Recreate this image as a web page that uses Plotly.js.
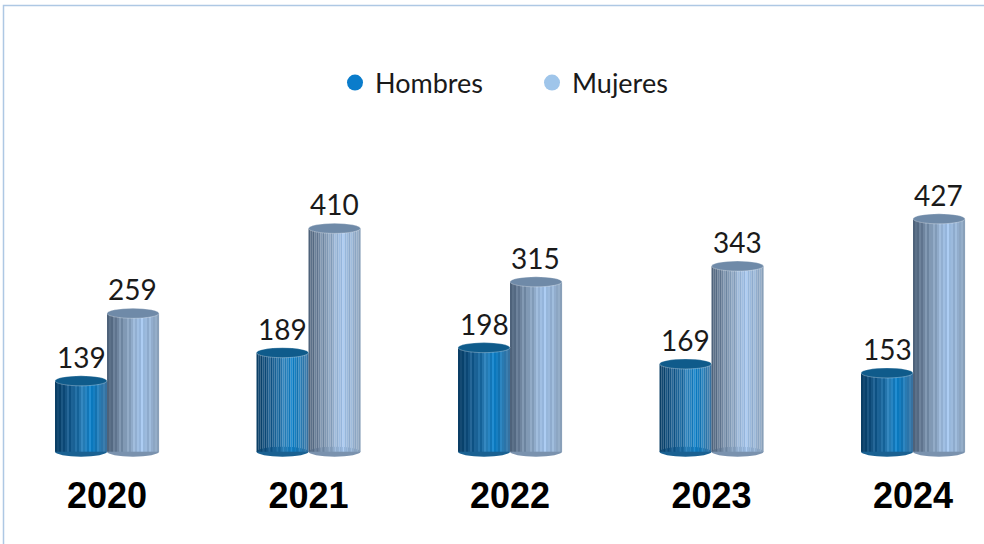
<!DOCTYPE html>
<html>
<head>
<meta charset="utf-8">
<script src="https://cdn.plot.ly/plotly-3.0.1.min.js"></script>
<style>
html,body{margin:0;padding:0;background:#fff;}
#chart{width:984px;height:544px;}
</style>
</head>
<body>
<div id="chart"></div>
<script>
// ---- data ----
const years = ["2020", "2021", "2022", "2023", "2024"];
const hombres = [139, 189, 198, 169, 153];
const mujeres = [259, 410, 315, 343, 427];
const seriesNames = ["Hombres", "Mujeres"];

// ---- style helpers ----
const xs = years.map((_, i) => i);
const BAR_W = 0.258;          // width of one cylinder (x units)
const NSTRIPE = 26;
const BASE = 13;              // visual floor of cylinders
const ELL = 8.9;              // half-height of ellipse (y units)

function hex2rgb(h){h=h.replace('#','');return [parseInt(h.substr(0,2),16),parseInt(h.substr(2,2),16),parseInt(h.substr(4,2),16)];}
function interp(stops, t){
  for(let i=0;i<stops.length-1;i++){
    const [t0,c0]=stops[i],[t1,c1]=stops[i+1];
    if(t>=t0&&t<=t1){
      const f=(t-t0)/(t1-t0);const a=hex2rgb(c0),b=hex2rgb(c1);
      return a.map((v,k)=>v+(b[k]-v)*f);
    }
  }
  return hex2rgb(stops[stops.length-1][1]);
}
const jitter=[0,8,-6,12,-8,2,16,-10,4,-2,10,-12,0,14,-4,8,-6,18,-2,4,-8,12,0,-4,8,-2];
function col(stops,t,j){const c=interp(stops,t).map(v=>Math.max(0,Math.min(255,Math.round(v+j))));return 'rgb('+c.join(',')+')';}

const gradH=[[0,'#093c62'],[0.18,'#13507e'],[0.4,'#1c679c'],[0.55,'#2a7fb8'],[0.7,'#0a7ac0'],[0.88,'#2c7ab0'],[1,'#3a729f']];
const gradM=[[0,'#4b5f77'],[0.2,'#6b819b'],[0.45,'#8ea8c5'],[0.65,'#9cbde3'],[0.85,'#93afcf'],[1,'#8aa0b8']];

const traces=[];
const shapes=[];
[[hombres,gradH,-BAR_W/2,'#0f5b8b','#1a6192'],[mujeres,gradM,BAR_W/2,'#6f8aa8','#7a92ae']].forEach(([vals,grad,off,topC,botC])=>{
  for(let s=0;s<NSTRIPE;s++){
    const t=(s+0.5)/NSTRIPE;
    const w=BAR_W/NSTRIPE;
    traces.push({
      type:'bar', x:xs, y:vals.map(v=>v-BASE), base:BASE,
      width:w*1.05, offset:off-BAR_W/2+s*w,
      marker:{color:col(grad,t,jitter[s]),line:{width:0}},
      showlegend:false, hoverinfo:'skip'
    });
  }
  xs.forEach((x,i)=>{
    shapes.push({type:'circle',xref:'x',yref:'y',layer:'above',
      x0:x+off-BAR_W/2,x1:x+off+BAR_W/2,y0:vals[i]-ELL,y1:vals[i]+ELL,
      fillcolor:topC,line:{width:0.6,color:'rgba(255,255,255,0.5)'}});
    shapes.push({type:'circle',xref:'x',yref:'y',layer:'below',
      x0:x+off-BAR_W/2,x1:x+off+BAR_W/2,y0:BASE-ELL,y1:BASE+ELL,
      fillcolor:botC,line:{width:0}});
  });
});

// legend-only traces
[['Hombres','#0a7ccb'],['Mujeres','#9fc5ea']].forEach(([n,c],k)=>{
  traces.push({type:'scatter',mode:'markers',x:[null],y:[null],name:seriesNames[k],
    marker:{symbol:'circle',size:21,color:c},showlegend:true,hoverinfo:'skip'});
});

// value labels
const annotations=[];
[[hombres,-BAR_W/2],[mujeres,BAR_W/2]].forEach(([vals,off])=>{
  vals.forEach((v,i)=>annotations.push({x:xs[i]+off,y:v,xref:'x',yref:'y',text:String(v),
    showarrow:false,yanchor:'bottom',yshift:5,font:{family:'Lato, sans-serif',size:28,color:'#1a1a1a'}}));
});

// border
shapes.push({type:'rect',xref:'paper',yref:'paper',x0:3.5/984,x1:1.02,y0:-0.3,y1:1-5.5/459,
  line:{color:'#aec8e4',width:1.5},fillcolor:'rgba(0,0,0,0)',layer:'below'});

const layout={
  width:984,height:544,
  margin:{l:0,r:0,t:0,b:85},
  paper_bgcolor:'#ffffff',plot_bgcolor:'rgba(0,0,0,0)',
  barmode:'overlay',
  xaxis:{range:[-107/201.5,(984-107)/201.5],tickvals:xs,ticktext:years,showgrid:false,zeroline:false,
    showline:false,ticks:'',ticklabelstandoff:12,
    tickfont:{family:'Arial, Liberation Sans, sans-serif',size:36,color:'#000',weight:'bold'}},
  yaxis:{range:[0,816],visible:false,showgrid:false,zeroline:false},
  showlegend:true,
  legend:{orientation:'h',x:335/984,xanchor:'left',y:1-83/459,yanchor:'middle',
    entrywidth:152,entrywidthmode:'pixels',
    font:{family:'Lato, sans-serif',size:27,color:'#1a1a1a'},itemwidth:30,bgcolor:'rgba(0,0,0,0)'},
  shapes:shapes,annotations:annotations
};
Plotly.newPlot('chart',traces,layout,{displayModeBar:false,staticPlot:true});
</script>
</body>
</html>
